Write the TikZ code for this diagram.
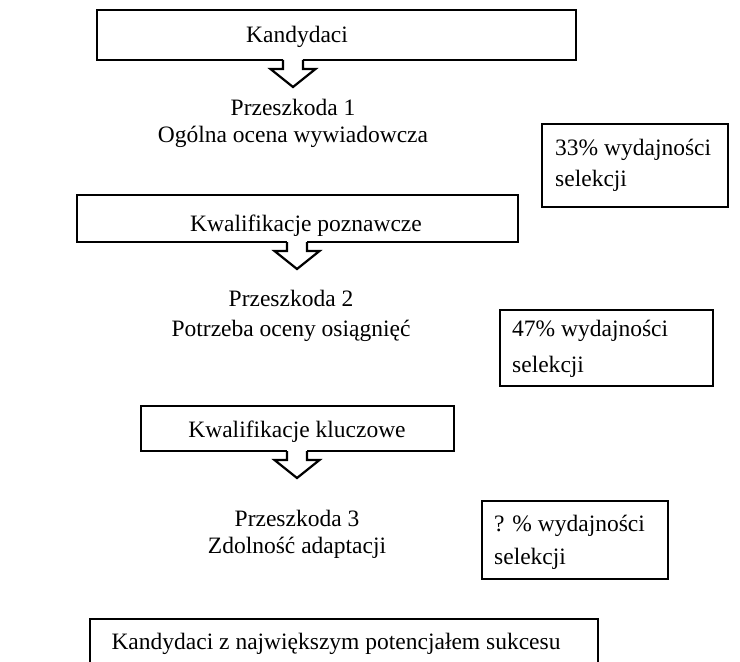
\documentclass[tikz,border=0pt]{standalone}
\usepackage{fontspec}
\setmainfont{Liberation Serif}
\tikzset{
  mainbox/.style={draw, line width=2.8bp, inner sep=0pt},
  sidebox/.style={draw, line width=1.4bp, inner sep=0pt},
  txt/.style={inner sep=0pt, anchor=base, font=\fontsize{23.5bp}{28bp}\selectfont},
  sidetxt/.style={txt, anchor=base west},
  arrowline/.style={line width=2.2bp},
}
\begin{document}
\begin{tikzpicture}[x=1bp, y=-1bp]
\useasboundingbox (0,0) rectangle (740,662);
% boxes
\node[mainbox, minimum width=479bp, minimum height=50bp] (kand) at (336.5,35) {};
\node[mainbox, minimum width=441bp, minimum height=47bp] (poznaw) at (297.5,218.5) {};
\node[mainbox, minimum width=313bp, minimum height=45bp] (klucz) at (297.5,428.5) {};
\node[mainbox, minimum width=508bp, minimum height=80bp] (sukces) at (344,659) {};
\node[sidebox, minimum width=186bp, minimum height=83bp] (eff1) at (635,165.5) {};
\node[sidebox, minimum width=213bp, minimum height=76bp] (eff2) at (606.5,348) {};
\node[sidebox, minimum width=186bp, minimum height=78bp] (eff3) at (575,540) {};
% texts
\node[txt] (tkand) at (297,43) {Kandydaci};
\node[txt] (tpoznaw) at (306,231) {Kwalifikacje poznawcze};
\node[txt] (tklucz) at (297,437) {Kwalifikacje kluczowe};
\node[txt] (tsukces) at (336,649) {Kandydaci z największym potencjałem sukcesu};
\node[txt] (p1a) at (293,116) {Przeszkoda 1};
\node[txt] (p1b) at (293,143) {Ogólna ocena wywiadowcza};
\node[txt] (p2a) at (291,306) {Przeszkoda 2};
\node[txt] (p2b) at (291,336) {Potrzeba oceny osiągnięć};
\node[txt] (p3a) at (297,526) {Przeszkoda 3};
\node[txt] (p3b) at (297,553) {Zdolność adaptacji};
\node[sidetxt] (e1a) at (555,155) {33\% wydajności};
\node[sidetxt] (e1b) at (555,186) {selekcji};
\node[sidetxt] (e2a) at (512,336) {47\% wydajności};
\node[sidetxt] (e2b) at (512,372) {selekcji};
\node[sidetxt] (e3a) at (494,531) {? \% wydajności};
\node[sidetxt] (e3b) at (494,564) {selekcji};
% arrows
\coordinate (arr1) at (293,60);
\coordinate (arr2) at (297,242);
\coordinate (arr3) at (297,451);
\foreach \a in {arr1,arr2,arr3} {
  \fill[white, shift={(\a)}] (-10,-3) rectangle (10,9);
  \draw[arrowline, shift={(\a)}] (-10,0) -- (-10,9) -- (-22.5,9) -- (0,27) -- (22.5,9) -- (10,9) -- (10,0);
}
\end{tikzpicture}
\end{document}
